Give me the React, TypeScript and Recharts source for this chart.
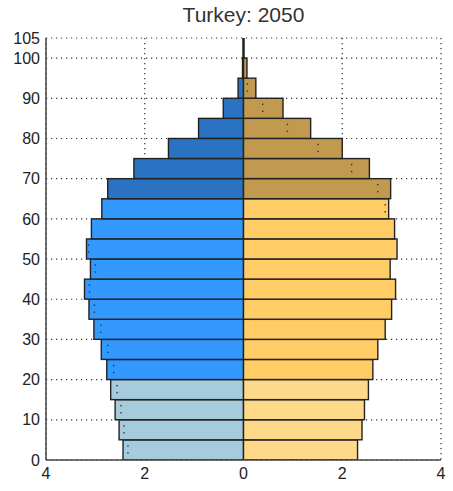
import React from "react";
import { BarChart, Bar, XAxis, YAxis, CartesianGrid, Cell } from "recharts";

// 5-year age groups (lower bound), youngest first
const AGE_START = [0, 5, 10, 15, 20, 25, 30, 35, 40, 45, 50, 55, 60, 65, 70, 75, 80, 85, 90, 95, 100];
// percent of population
const MALE = [
  2.44, 2.52, 2.6, 2.69, 2.77, 2.88, 3.03, 3.13, 3.22, 3.1,
  3.18, 3.08, 2.87, 2.75, 2.22, 1.52, 0.91, 0.41, 0.11, 0.02, 0.01,
];
const FEMALE = [
  2.31, 2.4, 2.45, 2.53, 2.62, 2.72, 2.87, 3.0, 3.08, 2.97,
  3.11, 3.06, 2.94, 2.98, 2.55, 2.0, 1.36, 0.8, 0.25, 0.07, 0.01,
];
// dotted comparison marks (null = not shown)
const MALE_REF = [
  2.34, 2.42, 2.48, 2.56, 2.63, 2.75, 2.89, 3.02, 3.12, 3.0,
  3.14, null, null, null, null, null, null, null, null, null, null,
];
const FEMALE_REF = [
  null, null, null, null, null, null, null, null, null, null,
  null, null, 2.87, 2.72, 2.19, 1.51, 0.89, 0.39, 0.08, null, null,
];
// age-group colours: 0-19, 20-64, 65+
const MALE_COLORS = ["#a6cbdd", "#3399ff", "#2a73c2"];
const FEMALE_COLORS = ["#ffd98a", "#ffcc66", "#c19a4f"];

const X_TICKS = [-4, -2, 0, 2, 4];
const Y_TICKS = [0, 10, 20, 30, 40, 50, 60, 70, 80, 90, 100, 105];

const FONT = "'Liberation Sans', Arial, sans-serif";
const AXIS = "#444";

const rows = AGE_START.map((a, i) => ({
  mid: a + 2.5,
  male: -MALE[i],
  female: FEMALE[i],
  maleRef: MALE_REF[i],
  femaleRef: FEMALE_REF[i],
}));

function group(i: number) {
  return i < 4 ? 0 : i < 13 ? 1 : 2;
}

function makeShape(side: "male" | "female") {
  return (props: any) => {
    const { x, y, width, height, fill, payload } = props;
    const left = Math.min(x, x + width);
    const w = Math.abs(width);
    const top = Math.min(y, y + height);
    const h = Math.abs(height);
    const value = Math.abs(side === "male" ? payload.male : payload.female);
    const ref = side === "male" ? payload.maleRef : payload.femaleRef;
    let dots = null;
    if (ref != null && value > 0) {
      const dx = side === "male" ? left + w - (w * ref) / value : left + (w * ref) / value;
      dots = [0.3, 0.65].map((f) => (
        <rect key={f} x={dx - 0.7} y={top + h * f - 0.7} width={1.4} height={1.4} fill="#333" />
      ));
    }
    return (
      <g>
        <rect x={left} y={top} width={w} height={h} fill={fill} stroke="#222" strokeWidth={1.4} />
        {dots}
      </g>
    );
  };
}

export default function App() {
  return (
    <div style={{ position: "absolute", left: 0, top: 0, width: 453, height: 491, background: "#fff" }}>
      <div
        style={{
          position: "absolute",
          top: 3,
          left: 46,
          width: 395,
          textAlign: "center",
          fontFamily: FONT,
          fontSize: 21,
          color: "#333",
        }}
      >
        Turkey: 2050
      </div>
      <BarChart
        width={453}
        height={491}
        data={rows}
        layout="vertical"
        stackOffset="sign"
        barCategoryGap={0}
        barGap={0}
        margin={{ top: 38, right: 12, left: 6, bottom: 1 }}
        style={{ fontFamily: FONT }}
      >
        <CartesianGrid stroke="#333" strokeWidth={1.2} strokeDasharray="1.2 3.8" />
        <XAxis
          type="number"
          domain={[-4, 4]}
          ticks={X_TICKS}
          tickFormatter={(v) => String(Math.abs(v))}
          tick={{ fontSize: 16, fill: "#222" }}
          tickLine={false}
          axisLine={{ stroke: AXIS, strokeWidth: 1.5 }}
          height={30}
        />
        <YAxis
          type="number"
          dataKey="mid"
          domain={[0, 105]}
          allowDataOverflow
          reversed
          ticks={Y_TICKS}
          interval={0}
          tick={{ fontSize: 16, fill: "#222" }}
          tickLine={false}
          tickMargin={0}
          axisLine={{ stroke: AXIS, strokeWidth: 1.5 }}
          width={40}
        />
        <Bar dataKey="male" stackId="p" isAnimationActive={false} shape={makeShape("male")}>
          {rows.map((_, i) => (
            <Cell key={i} fill={MALE_COLORS[group(i)]} />
          ))}
        </Bar>
        <Bar dataKey="female" stackId="p" isAnimationActive={false} shape={makeShape("female")}>
          {rows.map((_, i) => (
            <Cell key={i} fill={FEMALE_COLORS[group(i)]} />
          ))}
        </Bar>
      </BarChart>
    </div>
  );
}
